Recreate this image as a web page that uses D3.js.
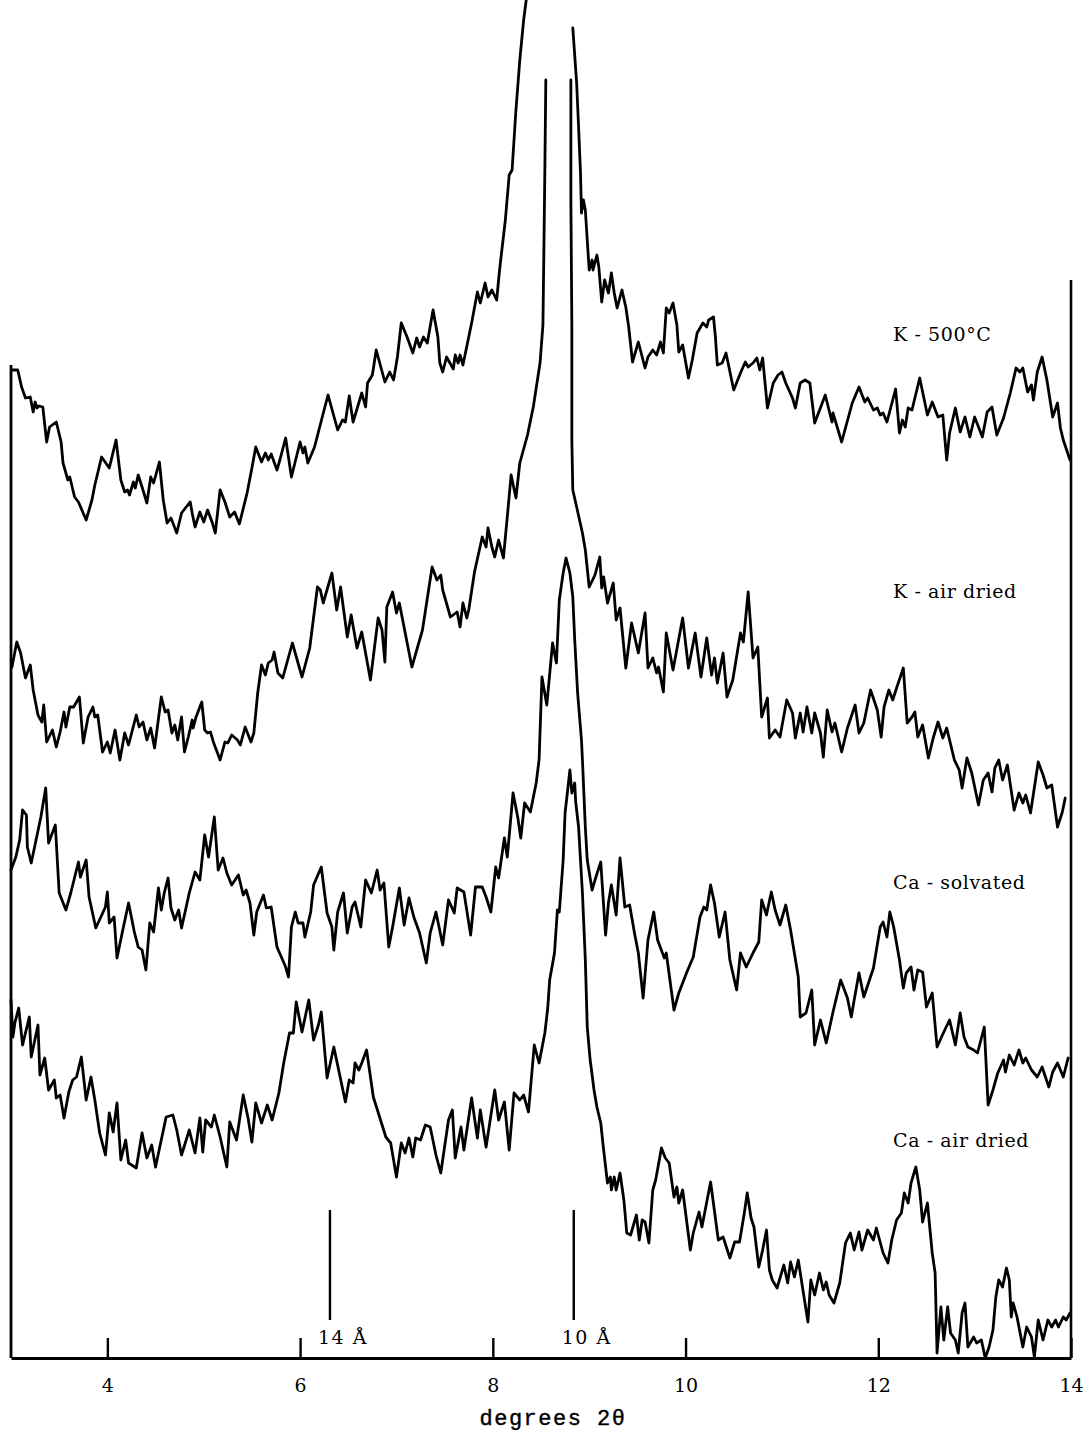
<!DOCTYPE html>
<html>
<head>
<meta charset="utf-8">
<script src="https://cdn.jsdelivr.net/npm/d3@7"></script>
<style>
  body { margin: 0; background: #fff; }
  svg { display: block; background: #fff; }
  .trace { fill: none; stroke: #000; stroke-width: 2.8; stroke-linejoin: round; stroke-linecap: round; }
  .lbl { font-family: "DejaVu Serif", serif; font-size: 19px; fill: #000; letter-spacing: 0.6px; }
</style>
</head>
<body>
<svg id="chart" width="1084" height="1436"></svg>
<script>
// [2theta (deg), intensity (arbitrary, traces stacked as on the chart paper)]
// null = pen off the paper at the 10 A peak
const k500 = [[3.01,988],[3.07,988],[3.11,971],[3.15,960],[3.20,961],[3.23,946],[3.25,956],[3.27,950],[3.29,952],[3.33,951],[3.37,916],[3.40,931],[3.47,936],[3.52,916],[3.54,895],[3.59,878],[3.61,881],[3.66,861],[3.70,856],[3.78,838],[3.84,858],[3.87,873],[3.94,901],[4.02,890],[4.09,918],[4.14,878],[4.18,866],[4.21,868],[4.23,863],[4.27,876],[4.29,870],[4.32,883],[4.36,871],[4.41,855],[4.45,881],[4.48,875],[4.54,896],[4.58,858],[4.62,835],[4.66,840],[4.72,825],[4.77,845],[4.81,850],[4.86,856],[4.88,845],[4.91,831],[4.96,846],[5.00,836],[5.04,848],[5.09,835],[5.12,825],[5.17,868],[5.22,856],[5.27,841],[5.32,846],[5.37,834],[5.45,865],[5.50,890],[5.54,911],[5.60,896],[5.64,905],[5.67,898],[5.70,904],[5.76,888],[5.79,898],[5.85,920],[5.91,881],[6.00,916],[6.03,905],[6.05,911],[6.08,895],[6.15,911],[6.23,941],[6.29,963],[6.39,928],[6.44,938],[6.47,936],[6.51,962],[6.55,936],[6.64,965],[6.68,951],[6.70,975],[6.75,983],[6.79,1008],[6.88,976],[6.93,986],[6.97,978],[7.01,1001],[7.05,1035],[7.11,1021],[7.17,1005],[7.21,1020],[7.24,1011],[7.28,1021],[7.32,1015],[7.38,1048],[7.43,1021],[7.45,995],[7.48,986],[7.52,1001],[7.59,989],[7.61,1003],[7.64,995],[7.66,1003],[7.69,993],[7.78,1035],[7.84,1066],[7.87,1055],[7.92,1075],[7.95,1061],[7.99,1068],[8.04,1058],[8.07,1088],[8.13,1138],[8.17,1183],[8.20,1188],[8.24,1248],[8.28,1298],[8.32,1338],[8.36,1368],
  [8.60,null],
  [8.83,1330],[8.87,1275],[8.89,1231],[8.91,1185],[8.92,1145],[8.94,1158],[8.96,1148],[8.98,1118],[9.00,1088],[9.03,1098],[9.04,1088],[9.08,1103],[9.10,1091],[9.13,1056],[9.16,1078],[9.20,1065],[9.23,1085],[9.26,1065],[9.29,1050],[9.34,1068],[9.38,1051],[9.41,1031],[9.45,996],[9.51,1016],[9.58,990],[9.61,1001],[9.66,1008],[9.70,1003],[9.74,1016],[9.77,1005],[9.80,1050],[9.83,1045],[9.87,1055],[9.91,1033],[9.93,1006],[9.97,1013],[10.03,980],[10.07,998],[10.12,1025],[10.15,1030],[10.18,1035],[10.22,1031],[10.24,1038],[10.29,1041],[10.31,1021],[10.33,993],[10.38,995],[10.42,1005],[10.50,968],[10.57,985],[10.62,996],[10.65,991],[10.70,995],[10.74,1000],[10.77,988],[10.80,1000],[10.85,950],[10.91,975],[10.96,983],[11.00,986],[11.04,975],[11.11,960],[11.14,950],[11.19,975],[11.24,978],[11.29,975],[11.34,935],[11.45,963],[11.52,936],[11.53,945],[11.62,916],[11.73,955],[11.80,971],[11.86,956],[11.89,960],[11.95,948],[11.99,950],[12.02,943],[12.05,945],[12.09,936],[12.18,969],[12.22,925],[12.25,938],[12.28,931],[12.31,950],[12.35,948],[12.43,980],[12.51,943],[12.56,956],[12.62,941],[12.67,943],[12.71,898],[12.74,925],[12.80,950],[12.85,926],[12.90,941],[12.95,921],[13.00,941],[13.08,921],[13.13,946],[13.18,951],[13.23,923],[13.30,940],[13.37,965],[13.43,990],[13.47,986],[13.50,990],[13.55,966],[13.59,973],[13.61,958],[13.65,986],[13.70,1001],[13.75,978],[13.81,941],[13.86,955],[13.89,930],[13.92,918],[13.99,898]];

const kAir = [[3.01,691],[3.06,716],[3.10,705],[3.15,680],[3.20,693],[3.23,668],[3.28,643],[3.32,636],[3.34,653],[3.37,616],[3.43,628],[3.47,611],[3.51,626],[3.55,646],[3.57,631],[3.61,651],[3.65,651],[3.71,661],[3.75,615],[3.80,641],[3.85,651],[3.87,641],[3.90,643],[3.95,606],[4.00,616],[4.03,605],[4.08,628],[4.13,598],[4.18,625],[4.22,613],[4.30,643],[4.33,631],[4.37,636],[4.41,618],[4.45,630],[4.49,610],[4.56,661],[4.60,646],[4.63,648],[4.67,625],[4.70,633],[4.73,618],[4.77,641],[4.80,606],[4.84,621],[4.88,638],[4.89,630],[4.92,641],[4.98,656],[5.01,628],[5.04,625],[5.07,626],[5.10,616],[5.17,598],[5.22,616],[5.25,615],[5.29,623],[5.35,618],[5.38,613],[5.43,631],[5.49,616],[5.52,625],[5.56,665],[5.60,693],[5.64,683],[5.67,695],[5.71,698],[5.73,706],[5.77,685],[5.82,680],[5.92,715],[6.02,681],[6.10,710],[6.18,771],[6.21,768],[6.24,755],[6.33,785],[6.38,748],[6.42,771],[6.49,721],[6.53,743],[6.59,710],[6.64,726],[6.73,678],[6.81,740],[6.85,728],[6.88,696],[6.90,751],[6.96,766],[7.00,745],[7.03,755],[7.16,691],[7.27,728],[7.37,791],[7.42,778],[7.46,783],[7.48,768],[7.56,741],[7.63,746],[7.66,731],[7.69,755],[7.73,740],[7.75,748],[7.81,786],[7.89,821],[7.93,811],[7.95,830],[7.99,811],[8.02,801],[8.06,818],[8.11,800],[8.15,841],[8.19,883],[8.24,860],[8.28,895],[8.36,923],[8.42,951],[8.49,995],[8.52,1033],[8.53,1108],[8.54,1188],[8.55,1278],
  [8.68,null],
  [8.81,1278],[8.81,1158],[8.82,1035],[8.82,918],[8.83,868],[8.87,851],[8.93,825],[8.96,808],[9.00,771],[9.06,783],[9.11,801],[9.13,770],[9.15,781],[9.19,755],[9.25,775],[9.28,738],[9.32,750],[9.38,690],[9.44,735],[9.51,705],[9.58,745],[9.61,690],[9.66,700],[9.70,685],[9.72,691],[9.77,666],[9.80,725],[9.87,688],[9.97,740],[10.03,690],[10.10,725],[10.16,681],[10.22,720],[10.27,683],[10.30,700],[10.33,675],[10.39,705],[10.43,661],[10.49,678],[10.57,725],[10.60,716],[10.65,766],[10.70,700],[10.75,711],[10.79,641],[10.85,660],[10.87,620],[10.93,628],[10.98,621],[11.05,658],[11.11,645],[11.14,620],[11.19,645],[11.22,626],[11.26,651],[11.31,625],[11.34,645],[11.40,625],[11.43,601],[11.47,648],[11.52,626],[11.55,635],[11.62,606],[11.68,630],[11.76,653],[11.80,625],[11.85,635],[11.92,668],[11.99,648],[12.03,621],[12.06,651],[12.11,668],[12.15,658],[12.19,670],[12.26,690],[12.30,635],[12.35,641],[12.38,646],[12.41,621],[12.46,633],[12.52,600],[12.57,620],[12.62,636],[12.67,620],[12.71,630],[12.79,598],[12.84,588],[12.87,570],[12.92,600],[12.97,585],[13.04,553],[13.09,578],[13.14,585],[13.18,566],[13.21,590],[13.25,598],[13.29,578],[13.34,593],[13.41,548],[13.46,565],[13.50,555],[13.53,563],[13.58,545],[13.66,596],[13.71,583],[13.75,570],[13.80,573],[13.86,531],[13.91,546],[13.94,560]];

const caSolv = [[3.00,488],[3.05,501],[3.09,518],[3.12,548],[3.16,543],[3.17,511],[3.21,495],[3.26,518],[3.31,541],[3.36,570],[3.39,515],[3.46,533],[3.50,465],[3.57,448],[3.62,465],[3.70,496],[3.72,481],[3.78,498],[3.81,461],[3.88,430],[3.98,451],[4.00,466],[4.02,435],[4.07,441],[4.10,400],[4.16,428],[4.22,455],[4.28,426],[4.32,411],[4.36,408],[4.40,388],[4.44,435],[4.48,426],[4.53,470],[4.56,448],[4.59,465],[4.63,480],[4.66,450],[4.70,438],[4.74,448],[4.77,430],[4.85,465],[4.91,486],[4.96,478],[5.01,523],[5.05,501],[5.11,541],[5.15,488],[5.20,500],[5.24,485],[5.29,473],[5.36,483],[5.41,463],[5.44,468],[5.48,455],[5.52,423],[5.55,446],[5.62,463],[5.65,450],[5.70,451],[5.76,411],[5.81,400],[5.85,391],[5.88,381],[5.91,431],[5.95,446],[5.98,435],[6.03,435],[6.05,421],[6.11,446],[6.14,473],[6.22,491],[6.28,445],[6.33,431],[6.35,408],[6.39,446],[6.45,465],[6.49,425],[6.54,451],[6.57,456],[6.63,431],[6.68,478],[6.74,465],[6.80,488],[6.83,468],[6.87,475],[6.92,411],[6.96,431],[7.03,470],[7.08,433],[7.13,460],[7.18,441],[7.24,425],[7.31,395],[7.35,425],[7.41,446],[7.48,413],[7.54,458],[7.60,445],[7.63,470],[7.70,466],[7.77,423],[7.82,471],[7.89,471],[7.93,461],[7.98,446],[8.03,491],[8.06,480],[8.12,520],[8.15,501],[8.21,565],[8.26,540],[8.29,520],[8.33,555],[8.39,546],[8.45,575],[8.48,598],[8.51,681],[8.56,653],[8.62,715],[8.66,695],[8.69,758],[8.73,785],[8.76,800],[8.80,785],[8.83,761],[8.85,718],[8.88,665],[8.92,618],[8.93,598],[8.96,531],[8.98,498],[9.03,468],[9.07,481],[9.12,496],[9.17,423],[9.20,455],[9.23,473],[9.28,443],[9.32,500],[9.37,451],[9.42,453],[9.47,425],[9.51,405],[9.56,360],[9.61,418],[9.67,446],[9.71,418],[9.78,400],[9.80,405],[9.88,348],[9.93,365],[10.01,385],[10.08,401],[10.15,441],[10.19,451],[10.22,448],[10.26,473],[10.30,455],[10.35,421],[10.41,446],[10.46,398],[10.53,368],[10.57,405],[10.63,391],[10.70,405],[10.76,416],[10.79,458],[10.84,443],[10.89,466],[10.93,448],[10.98,433],[11.04,453],[11.09,428],[11.17,381],[11.19,341],[11.25,345],[11.31,368],[11.34,313],[11.40,338],[11.46,315],[11.53,346],[11.58,366],[11.61,378],[11.68,360],[11.72,341],[11.75,358],[11.80,385],[11.85,361],[11.95,390],[12.02,431],[12.05,436],[12.09,421],[12.12,446],[12.16,431],[12.22,398],[12.26,370],[12.29,385],[12.34,391],[12.37,368],[12.41,388],[12.46,386],[12.50,351],[12.56,365],[12.61,311],[12.68,326],[12.74,338],[12.80,313],[12.85,345],[12.89,321],[12.93,311],[12.99,308],[13.03,305],[13.10,331],[13.14,253],[13.19,268],[13.24,285],[13.30,298],[13.32,286],[13.36,303],[13.41,293],[13.46,308],[13.50,295],[13.53,300],[13.59,288],[13.65,281],[13.70,291],[13.77,271],[13.81,286],[13.86,295],[13.92,281],[13.97,300]];

const caAir = [[3.00,358],[3.02,321],[3.04,335],[3.08,350],[3.12,313],[3.19,341],[3.21,301],[3.28,333],[3.30,283],[3.35,300],[3.39,268],[3.45,278],[3.47,260],[3.51,263],[3.55,240],[3.60,266],[3.64,278],[3.68,281],[3.73,301],[3.78,258],[3.83,281],[3.87,258],[3.92,225],[3.98,203],[4.02,245],[4.06,226],[4.10,255],[4.14,198],[4.19,218],[4.22,195],[4.30,190],[4.36,225],[4.41,200],[4.46,213],[4.50,191],[4.61,241],[4.68,243],[4.72,228],[4.77,203],[4.85,228],[4.91,205],[4.96,240],[4.99,206],[5.02,238],[5.08,231],[5.11,243],[5.17,221],[5.24,191],[5.27,236],[5.34,218],[5.41,263],[5.46,240],[5.50,216],[5.54,255],[5.60,235],[5.66,253],[5.71,238],[5.78,265],[5.83,295],[5.89,325],[5.93,325],[5.96,356],[6.02,326],[6.09,358],[6.14,318],[6.19,333],[6.22,346],[6.28,280],[6.35,311],[6.47,256],[6.51,278],[6.55,275],[6.57,295],[6.61,288],[6.64,295],[6.69,308],[6.76,261],[6.89,221],[6.94,215],[6.97,198],[7.00,181],[7.05,215],[7.09,205],[7.13,220],[7.17,201],[7.20,220],[7.25,218],[7.30,233],[7.35,231],[7.41,203],[7.46,185],[7.54,238],[7.58,248],[7.61,200],[7.67,231],[7.70,208],[7.78,260],[7.84,220],[7.87,248],[7.93,211],[8.02,268],[8.06,238],[8.12,256],[8.17,208],[8.22,265],[8.28,258],[8.32,263],[8.37,246],[8.43,313],[8.48,295],[8.54,325],[8.57,350],[8.59,378],[8.64,405],[8.67,448],[8.69,446],[8.73,498],[8.75,545],[8.80,588],[8.82,565],[8.85,575],[8.86,556],[8.89,531],[8.93,465],[8.96,398],[8.98,331],[9.01,298],[9.02,291],[9.05,268],[9.08,251],[9.12,235],[9.15,208],[9.19,175],[9.22,181],[9.23,168],[9.26,181],[9.28,168],[9.32,185],[9.36,158],[9.39,125],[9.43,123],[9.49,143],[9.52,118],[9.55,138],[9.58,136],[9.62,115],[9.66,168],[9.69,178],[9.75,210],[9.79,200],[9.83,195],[9.88,161],[9.91,171],[9.93,155],[9.97,168],[10.05,108],[10.08,125],[10.14,146],[10.17,131],[10.26,176],[10.34,118],[10.39,121],[10.46,100],[10.51,116],[10.56,116],[10.61,145],[10.64,165],[10.68,140],[10.71,131],[10.76,91],[10.80,108],[10.84,128],[10.87,88],[10.90,78],[10.95,70],[11.02,93],[11.06,75],[11.09,96],[11.13,81],[11.17,98],[11.21,73],[11.27,36],[11.30,78],[11.34,63],[11.39,85],[11.43,68],[11.46,76],[11.49,63],[11.54,55],[11.60,75],[11.66,115],[11.71,125],[11.75,108],[11.80,126],[11.83,108],[11.89,128],[11.95,118],[11.98,130],[12.05,105],[12.10,95],[12.14,118],[12.19,138],[12.24,145],[12.27,165],[12.31,155],[12.34,175],[12.39,191],[12.43,168],[12.46,136],[12.51,155],[12.56,105],[12.59,85],[12.61,5],[12.65,51],[12.68,18],[12.72,51],[12.75,25],[12.80,18],[12.83,5],[12.87,45],[12.90,55],[12.93,11],[12.99,21],[13.02,15],[13.07,18],[13.11,0],[13.15,11],[13.19,28],[13.22,61],[13.25,78],[13.29,71],[13.33,90],[13.36,78],[13.38,41],[13.40,55],[13.44,41],[13.50,11],[13.54,31],[13.59,21],[13.62,1],[13.66,38],[13.71,18],[13.76,38],[13.80,31],[13.84,38],[13.87,31],[13.92,41],[13.95,38],[13.99,45]];

const seriesNames = ['K - 500°C', 'K - air dried', 'Ca - solvated', 'Ca - air dried'];
const xTicks = [4, 6, 8, 10, 12, 14];
const markerPos = [6.31, 8.84];          // 14 A and 10 A reflections, Cu K-alpha
const markerLabels = ['14 Å', '10 Å'];

const svg = d3.select('#chart');
const x = d3.scaleLinear().domain([3, 14]).range([11, 1071]);
const y = d3.scaleLinear().domain([0, 1350]).range([1358, 8]);

const line = d3.line()
  .defined(d => d[1] != null)
  .x(d => x(d[0]))
  .y(d => y(d[1]));

// frame sides
svg.append('line').attr('x1', x(3)).attr('x2', x(3)).attr('y1', 365).attr('y2', y(0))
  .attr('stroke', '#000').attr('stroke-width', 2.8);
svg.append('line').attr('x1', x(14)).attr('x2', x(14)).attr('y1', 280).attr('y2', y(0))
  .attr('stroke', '#000').attr('stroke-width', 2.6);

// axis
const axis = svg.append('g')
  .attr('transform', `translate(0,${y(0)})`)
  .call(d3.axisBottom(x).tickValues(xTicks).tickSize(-20).tickSizeOuter(0).tickPadding(21).tickFormat(d3.format('d')));
axis.select('.domain').attr('stroke', '#000').attr('stroke-width', 2.8);
axis.selectAll('.tick line').attr('stroke', '#000').attr('stroke-width', 2.4);
axis.selectAll('.tick text')
  .attr('font-family', '"DejaVu Serif", serif').attr('font-size', 19).attr('fill', '#000');

svg.append('text')
  .attr('x', 553).attr('y', 1425)
  .attr('text-anchor', 'middle')
  .attr('font-family', '"Liberation Mono", monospace').attr('font-size', 22)
  .attr('letter-spacing', 1.5)
  .attr('stroke', '#000').attr('stroke-width', 0.4)
  .attr('fill', '#000')
  .text('degrees 2θ');

// d-spacing markers
const mk = svg.append('g');
mk.selectAll('line').data(markerPos).join('line')
  .attr('x1', d => x(d)).attr('x2', d => x(d))
  .attr('y1', 1210).attr('y2', 1320)
  .attr('stroke', '#000').attr('stroke-width', 2.4);
mk.selectAll('text').data(markerPos).join('text')
  .attr('x', d => x(d) - 12).attr('y', 1344)
  .attr('font-family', '"DejaVu Serif", serif').attr('font-size', 19)
  .attr('letter-spacing', 1.5)
  .attr('fill', '#000')
  .text((d, i) => markerLabels[i]);

// traces
const traces = [k500, kAir, caSolv, caAir];
svg.append('g').selectAll('path').data(traces).join('path')
  .attr('class', 'trace')
  .attr('d', line);

// trace names
const labelY = [341, 598, 889, 1147];
svg.append('g').selectAll('text').data(seriesNames).join('text')
  .attr('class', 'lbl')
  .attr('x', 893).attr('y', (d, i) => labelY[i])
  .text(d => d);
</script>
</body>
</html>
